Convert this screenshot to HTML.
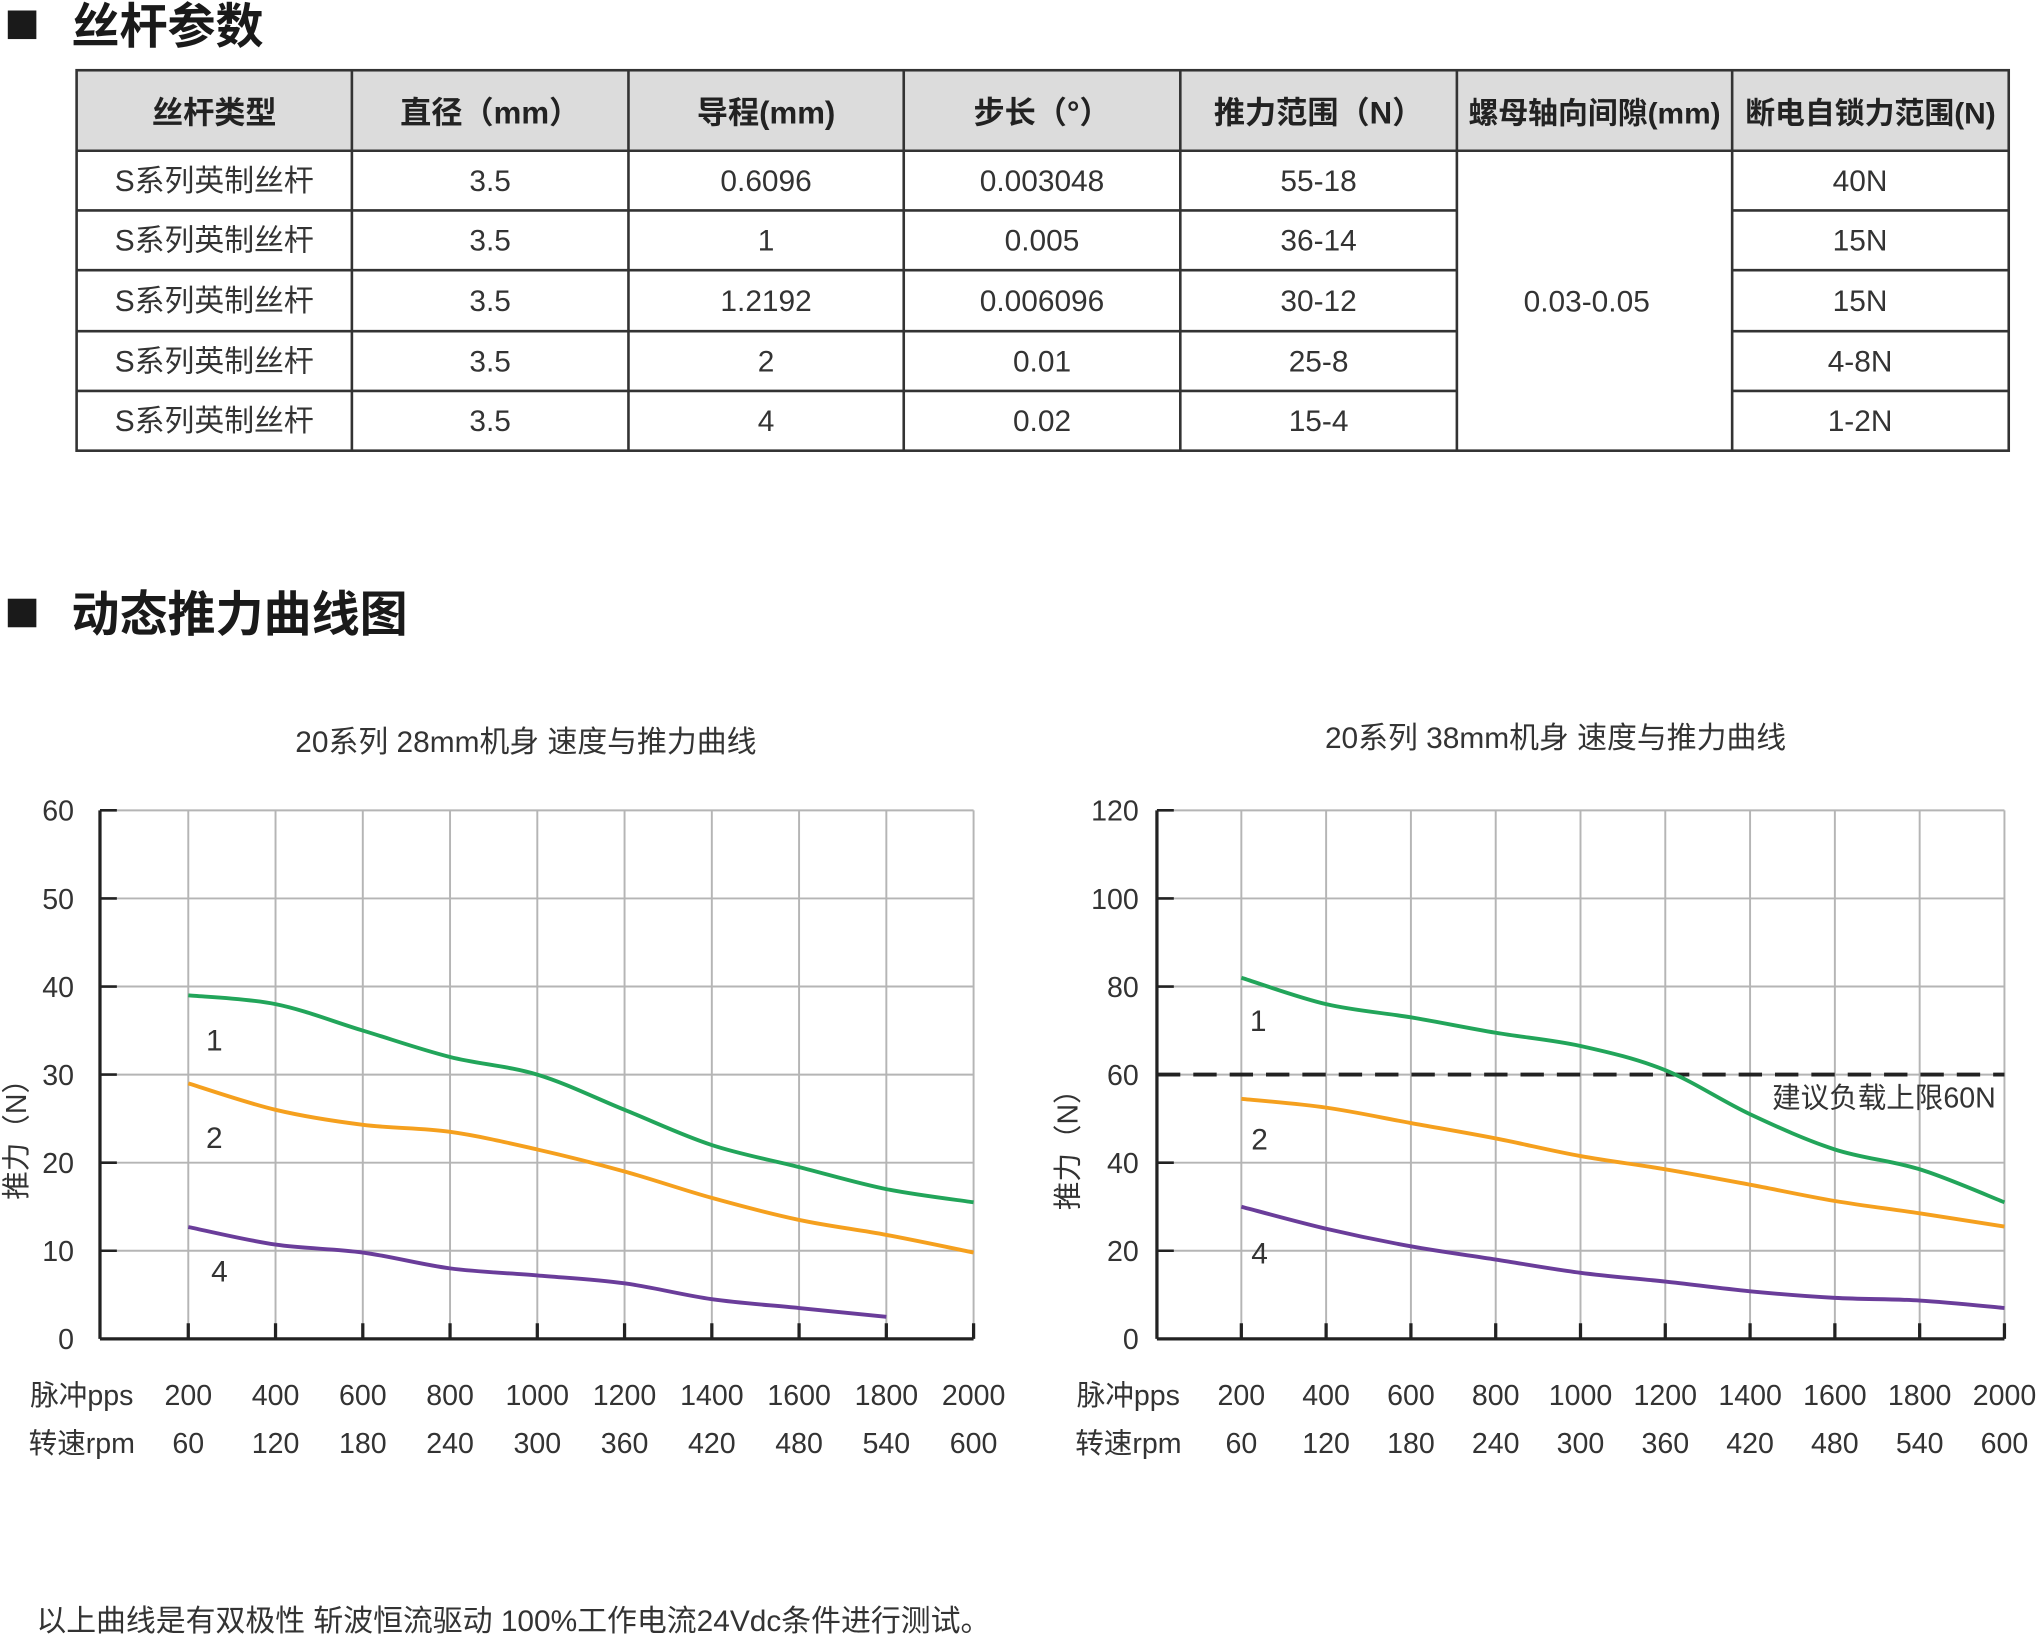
<!DOCTYPE html>
<html><head><meta charset="utf-8"><style>
html,body{margin:0;padding:0;background:#fff;}
svg{display:block;}
text{font-family:"Liberation Sans","Noto Sans CJK SC",sans-serif;fill:#333;}
</style></head><body>
<svg id="s" width="2036" height="1635" viewBox="0 0 1568 1259" xmlns="http://www.w3.org/2000/svg">
<rect x="6" y="8" width="22" height="22" fill="#1a1a1a"/>
<text x="55" y="33" font-size="37" font-weight="bold" style="fill:#1a1a1a">丝杆参数</text>
<rect x="6" y="461" width="22" height="22" fill="#1a1a1a"/>
<text x="55" y="486" font-size="37" font-weight="bold" style="fill:#1a1a1a">动态推力曲线图</text>
<g id="tbl"></g>
<text x="405" y="579" font-size="23" text-anchor="middle">20系列 28mm机身 速度与推力曲线</text>
<text x="1198" y="576" font-size="23" text-anchor="middle">20系列 38mm机身 速度与推力曲线</text>
<g id="charts"></g>
<text x="28" y="1256" font-size="23">以上曲线是有双极性 斩波恒流驱动 100%工作电流24Vdc条件进行测试。</text>
</svg>
<script>
var NS="http://www.w3.org/2000/svg";
function el(p,t,a,txt){var e=document.createElementNS(NS,t);for(var k in a)e.setAttribute(k,a[k]);if(txt!=null)e.textContent=txt;p.appendChild(e);return e;}
var T=document.getElementById('tbl');
var cx=[59,271,484,696,909,1122,1334,1547],ry=[54,116,162,208,255,301,347];
el(T,'rect',{x:59,y:54,width:1488,height:62,fill:'#dcdcdc'});
var hd=['丝杆类型','直径（mm）','导程(mm)','步长（°）','推力范围（N）','螺母轴向间隙(mm)','断电自锁力范围(N)'];
hd.forEach(function(h,i){el(T,'text',{x:(cx[i]+cx[i+1])/2,y:95,'font-size':(i>=5?23:24),'font-weight':'bold','text-anchor':'middle',style:'fill:#222'},h);});
var rows=[['S系列英制丝杆','3.5','0.6096','0.003048','55-18','40N'],['S系列英制丝杆','3.5','1','0.005','36-14','15N'],['S系列英制丝杆','3.5','1.2192','0.006096','30-12','15N'],['S系列英制丝杆','3.5','2','0.01','25-8','4-8N'],['S系列英制丝杆','3.5','4','0.02','15-4','1-2N']];
rows.forEach(function(r,j){var y=(ry[j+1]+ry[j+2])/2+8;
 [0,1,2,3,4].forEach(function(i){el(T,'text',{x:(cx[i]+cx[i+1])/2+(i==0?0:0),y:y,'font-size':23,'text-anchor':'middle'},r[i]);});
 el(T,'text',{x:(cx[6]+cx[7])/2-8,y:y,'font-size':23,'text-anchor':'middle'},r[5]);});
el(T,'text',{x:(cx[5]+cx[6])/2-6,y:240,'font-size':23,'text-anchor':'middle'},'0.03-0.05');
var st='#333';
el(T,'rect',{x:59,y:54,width:1488,height:293,fill:'none',stroke:st,'stroke-width':2});
cx.slice(1,7).forEach(function(x){el(T,'line',{x1:x,y1:54,x2:x,y2:347,stroke:st,'stroke-width':2});});
ry.slice(1,6).forEach(function(y,k){el(T,'line',{x1:59,y1:y,x2:1122,y2:y,stroke:st,'stroke-width':2});el(T,'line',{x1:1334,y1:y,x2:1547,y2:y,stroke:st,'stroke-width':2});});
el(T,'line',{x1:1122,y1:116,x2:1334,y2:116,stroke:st,'stroke-width':2});
var C=document.getElementById('charts');
function path(pts){var d='M'+pts[0][0]+','+pts[0][1];for(var i=0;i<pts.length-1;i++){var p0=pts[i-1]||pts[i],p1=pts[i],p2=pts[i+1],p3=pts[i+2]||p2;
 d+=' C'+(p1[0]+(p2[0]-p0[0])/6)+','+(p1[1]+(p2[1]-p0[1])/6)+' '+(p2[0]-(p3[0]-p1[0])/6)+','+(p2[1]-(p3[1]-p1[1])/6)+' '+p2[0]+','+p2[1];}return d;}
function chart(o){
 var x0=o.x0,xs=o.xs,top=624,bot=1031,ymax=o.ymax;
 function Y(v){return bot-(bot-top)*v/ymax;}
 var xr=xs[xs.length-1];
 for(var v=o.step;v<=ymax;v+=o.step)el(C,'line',{x1:x0,y1:Y(v),x2:xr,y2:Y(v),stroke:'#b5b5b5','stroke-width':1.5});
 xs.forEach(function(x){el(C,'line',{x1:x,y1:top,x2:x,y2:bot,stroke:'#b5b5b5','stroke-width':1.5});el(C,'line',{x1:x,y1:bot-12,x2:x,y2:bot,stroke:'#222','stroke-width':2.5});});
 for(var v=0;v<=ymax;v+=o.step){el(C,'line',{x1:x0,y1:Y(v),x2:x0+13,y2:Y(v),stroke:'#222','stroke-width':2});
  el(C,'text',{x:o.lx,y:Y(v)+8,'font-size':22,'text-anchor':'end'},v);}
 el(C,'line',{x1:x0,y1:top,x2:x0,y2:bot,stroke:'#222','stroke-width':2.5});
 el(C,'line',{x1:x0,y1:bot,x2:xr,y2:bot,stroke:'#222','stroke-width':2.5});
 if(o.dash)el(C,'line',{x1:x0,y1:Y(60),x2:xr,y2:Y(60),stroke:'#222','stroke-width':3,'stroke-dasharray':'18 10'});
 var cols=['#22a55a','#f5a01e','#6a3d9a'];
 o.series.forEach(function(s,k){var pts=s.map(function(v,i){return [xs[i],Y(v)];});el(C,'path',{d:path(pts),fill:'none',stroke:cols[k],'stroke-width':3});});
 o.labels.forEach(function(l){el(C,'text',{x:l[0],y:l[1],'font-size':23,'text-anchor':'middle'},l[2]);});
 var pps=['200','400','600','800','1000','1200','1400','1600','1800','2000'],rpm=['60','120','180','240','300','360','420','480','540','600'];
 xs.forEach(function(x,i){el(C,'text',{x:x,y:1082,'font-size':22,'text-anchor':'middle'},pps[i]);el(C,'text',{x:x,y:1119,'font-size':22,'text-anchor':'middle'},rpm[i]);});
 el(C,'text',{x:o.px,y:1082,'font-size':22,'text-anchor':'middle'},'脉冲pps');
 el(C,'text',{x:o.px,y:1119,'font-size':22,'text-anchor':'middle'},'转速rpm');
 el(C,'text',{x:0,y:0,'font-size':22,'text-anchor':'middle',transform:'translate('+o.ax+','+o.ay+') rotate(-90)'},'推力（N）');
}
function gx(a,d){var r=[];for(var i=0;i<10;i++)r.push(a+d*i);return r;}
chart({x0:77,xs:gx(145,67.2),ymax:60,step:10,lx:57,px:63,ax:20,ay:872,
 series:[[39,38,35,32,30,26,22,19.5,17,15.5],[29,26,24.3,23.5,21.5,19,16,13.5,11.8,9.8],[12.7,10.7,9.8,8,7.2,6.3,4.5,3.5,2.5]],
 labels:[[165,809,'1'],[165,884,'2'],[169,987,'4']]});
chart({x0:891,xs:gx(956,65.3),ymax:120,step:20,lx:877,px:869,ax:830,ay:880,dash:true,
 series:[[82,76,73,69.5,66.5,61,51,43,38.5,31],[54.5,52.5,49,45.5,41.5,38.5,35,31.3,28.5,25.5],[30,25,21,18,15,13,10.8,9.3,8.7,7]],
 labels:[[969,794,'1'],[970,885,'2'],[970,973,'4']]});
el(C,'text',{x:1537,y:853,'font-size':22,'text-anchor':'end'},'建议负载上限60N');
</script>
</body></html>
